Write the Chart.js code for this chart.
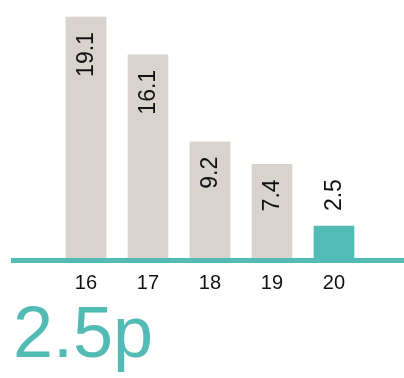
<!DOCTYPE html>
<html>
<head>
<meta charset="utf-8">
<script src="https://cdn.jsdelivr.net/npm/chart.js@4"></script>
<style>
  html, body { margin: 0; padding: 0; background: #fff; }
  #wrap { width: 404px; height: 378px; }
</style>
</head>
<body>
<div id="wrap"><canvas id="chart" width="404" height="378"></canvas></div>
<script>
// Data
const years = [16, 17, 18, 19, 20];
const values = [19.1, 16.1, 9.2, 7.4, 2.5];
const barColors = ['#d9d3cd', '#d9d3cd', '#d9d3cd', '#d9d3cd', '#52bbb5'];
const headline = '2.5p';

const TEAL = '#52bbb5';
const FONT = '"Liberation Sans", Arial, Helvetica, sans-serif';

// Rotated value labels, inside the bar when it is tall enough, else above it
const valueLabels = {
  id: 'valueLabels',
  afterDatasetsDraw(chart) {
    const ctx = chart.ctx;
    const meta = chart.getDatasetMeta(0);
    ctx.save();
    ctx.font = '23px ' + FONT;
    ctx.fillStyle = '#111';
    ctx.textBaseline = 'middle';
    meta.data.forEach((bar, i) => {
      const h = bar.base - bar.y;
      const label = values[i].toFixed(1);
      ctx.save();
      ctx.translate(bar.x + 1, bar.y);
      ctx.rotate(-Math.PI / 2);
      if (h > 60) {
        ctx.textAlign = 'right';
        ctx.fillText(label, -15, 0);
      } else {
        ctx.textAlign = 'left';
        ctx.fillText(label, 15, 0);
      }
      ctx.restore();
    });
    ctx.restore();
  }
};

new Chart(document.getElementById('chart'), {
  type: 'bar',
  data: {
    datasets: [{
      data: years.map((x, i) => ({ x, y: values[i] })),
      backgroundColor: barColors,
      borderWidth: 0,
      barThickness: 40
    }]
  },
  options: {
    responsive: false,
    animation: false,
    layout: { padding: { left: 13, right: 0, top: 0, bottom: 0 } },
    plugins: {
      legend: { display: false },
      tooltip: { enabled: false },
      title: {
        display: true,
        text: headline,
        position: 'bottom',
        align: 'start',
        color: TEAL,
        padding: { top: 0, bottom: 10 },
        font: { family: FONT, size: 72, weight: 'normal', lineHeight: 0.86 }
      }
    },
    scales: {
      x: {
        type: 'linear',
        min: 14.823,
        max: 21.129,
        offset: false,
        z: 1,
        grid: { display: false, drawTicks: false },
        border: { display: true, color: TEAL, width: 5 },
        afterBuildTicks: scale => { scale.ticks = years.map(v => ({ value: v })); },
        ticks: {
          color: '#111',
          padding: 11,
          autoSkip: false,
          maxRotation: 0,
          font: { family: FONT, size: 20 }
        }
      },
      y: {
        display: false,
        min: -0.2,
        max: 20.46
      }
    }
  },
  plugins: [valueLabels]
});
</script>
</body>
</html>
